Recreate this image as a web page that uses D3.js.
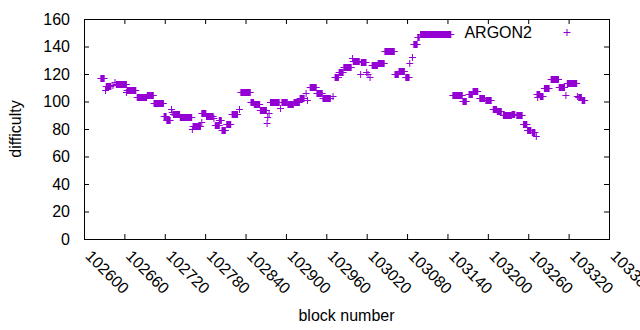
<!DOCTYPE html>
<html>
<head>
<meta charset="utf-8">
<script src="https://cdn.jsdelivr.net/npm/d3@7"></script>
<style>
  body { margin: 0; background: #fff; }
  svg text { font-family: "Liberation Sans", Arial, sans-serif; font-size: 16px; fill: #000; }
</style>
</head>
<body>
<div id="chart"></div>
<script>
// runs of consecutive ARGON2 blocks that share one difficulty (first block, last block, difficulty)
const runStart = [102625, 102632, 102633, 102643, 102646, 102648, 102663, 102664, 102679, 102694,
  102704, 102719, 102723, 102730, 102731, 102733, 102743, 102761, 102762, 102775,
  102775, 102782, 102793, 102795, 102801, 102805, 102812, 102820, 102831, 102833,
  102848, 102853, 102862, 102872, 102873, 102875, 102877, 102892, 102894, 102903,
  102912, 102921, 102930, 102932, 102936, 102946, 102955, 102970, 102973, 102979,
  102986, 102999, 103000, 103011, 103012, 103020, 103022, 103025, 103028, 103037,
  103047, 103062, 103068, 103078, 103084, 103088, 103090, 103096, 103100, 103148,
  103163, 103172, 103178, 103188, 103197, 103208, 103214, 103223, 103236, 103243,
  103253, 103259, 103266, 103272, 103273, 103274, 103278, 103284, 103294, 103306,
  103316, 103318, 103333, 103335, 103340];
const runEnd = [102630, 102632, 102640, 102643, 102646, 102663, 102663, 102677, 102693, 102703,
  102718, 102722, 102728, 102730, 102731, 102742, 102760, 102761, 102773, 102775,
  102781, 102792, 102793, 102801, 102804, 102810, 102818, 102828, 102831, 102847,
  102852, 102861, 102871, 102872, 102873, 102875, 102890, 102892, 102902, 102911,
  102920, 102927, 102930, 102932, 102945, 102954, 102966, 102970, 102978, 102985,
  102997, 102999, 103009, 103011, 103019, 103020, 103022, 103025, 103036, 103046,
  103061, 103067, 103076, 103083, 103084, 103088, 103095, 103098, 103145, 103162,
  103168, 103177, 103185, 103195, 103205, 103213, 103220, 103235, 103240, 103251,
  103258, 103264, 103270, 103272, 103277, 103274, 103282, 103291, 103305, 103314,
  103316, 103332, 103333, 103339, 103344];
const runDifficulty = [117, 108, 111.5, 112, 114, 112.5, 106.7, 108.4, 103.3, 104.4,
  98.8, 89.2, 86.5, 94.3, 92.6, 90.9, 88.4, 80, 82.1, 85.3,
  92, 89.8, 87.8, 83, 86.5, 79.3, 83.5, 90.9, 94.5, 106.6,
  99.6, 98.2, 93.5, 84.7, 89, 91.5, 99.4, 95, 99.9, 98,
  99.8, 102.3, 106.5, 101.3, 110.9, 106, 102.3, 104, 117.6, 121.7,
  124.9, 131.4, 129.2, 119.8, 128.5, 121.7, 120, 117.6, 126.5, 127.8,
  136.5, 119.8, 122.4, 118, 127.8, 132.6, 141.6, 146.7, 148.9, 104.5,
  100.1, 105.1, 107.4, 102.3, 101, 94.3, 92.9, 90, 90.7, 90,
  83.4, 79.3, 77.5, 75, 105.2, 103.5, 104.2, 110, 116.1, 110.8,
  104.7, 113.2, 104.2, 103.5, 101];

const xTicks = [102600, 102660, 102720, 102780, 102840, 102900, 102960,
  103020, 103080, 103140, 103200, 103260, 103320, 103380];
const yTicks = [0, 20, 40, 60, 80, 100, 120, 140, 160];
const seriesName = 'ARGON2';

const width = 640;
const height = 330;
const plotLeft = 84, plotRight = 609, plotTop = 19, plotBottom = 239;
const color = '#9400d3';
const arm = 3.5;

const svg = d3.select('#chart').append('svg')
  .attr('width', width)
  .attr('height', height);

const x = d3.scaleLinear().domain([102600, 103380]).range([plotLeft, plotRight]);
const y = d3.scaleLinear().domain([0, 160]).range([plotBottom, plotTop]);

const runs = runStart.map((s, i) => ({ from: s, to: runEnd[i], value: runDifficulty[i] }));

// axes, ticks pointing inwards like gnuplot, mirrored on top and right
svg.append('g')
  .attr('transform', `translate(0,${plotBottom})`)
  .call(d3.axisBottom(x).tickValues(xTicks).tickFormat(d3.format('d')).tickSizeInner(-5).tickSizeOuter(0))
  .call((g) => g.select('.domain').remove())
  .call((g) => g.selectAll('text')
    .attr('text-anchor', 'start')
    .attr('x', 0)
    .attr('y', 0)
    .attr('dy', 0)
    .attr('transform', 'translate(0,18) rotate(45)'));

svg.append('g')
  .attr('transform', `translate(0,${plotTop})`)
  .call(d3.axisTop(x).tickValues(xTicks).tickFormat('').tickSizeInner(-5).tickSizeOuter(0))
  .call((g) => g.select('.domain').remove());

svg.append('g')
  .attr('transform', `translate(${plotLeft},0)`)
  .call(d3.axisLeft(y).tickValues(yTicks).tickSizeInner(-5).tickSizeOuter(0).tickPadding(14))
  .call((g) => g.select('.domain').remove());

svg.append('g')
  .attr('transform', `translate(${plotRight},0)`)
  .call(d3.axisRight(y).tickValues(yTicks).tickFormat('').tickSizeInner(-5).tickSizeOuter(0))
  .call((g) => g.select('.domain').remove());

svg.selectAll('.tick line').attr('stroke', '#000');
svg.selectAll('.tick text').attr('fill', '#000').style('font-size', '16px');

svg.append('rect')
  .attr('x', plotLeft + 0.5)
  .attr('y', plotTop + 0.5)
  .attr('width', plotRight - plotLeft)
  .attr('height', plotBottom - plotTop)
  .attr('fill', 'none')
  .attr('stroke', '#000');

// points: a run of '+' marks merges into a filled bar with arms at both ends
const marks = svg.append('g').attr('class', 'points');

marks.selectAll('.arm')
  .data(runs)
  .enter()
  .append('line')
  .attr('class', 'arm')
  .attr('x1', (d) => x(d.from) - arm)
  .attr('x2', (d) => x(d.to) + arm)
  .attr('y1', (d) => Math.round(y(d.value)) + 0.5)
  .attr('y2', (d) => Math.round(y(d.value)) + 0.5)
  .attr('stroke', color);

marks.selectAll('.stem')
  .data(runs)
  .enter()
  .append('rect')
  .attr('class', 'stem')
  .attr('x', (d) => x(d.from) - 0.5)
  .attr('width', (d) => x(d.to) - x(d.from) + 1)
  .attr('y', (d) => Math.round(y(d.value)) + 0.5 - arm)
  .attr('height', arm * 2)
  .attr('fill', color);

// key
svg.append('text')
  .attr('x', 532)
  .attr('y', 38)
  .attr('text-anchor', 'end')
  .text(seriesName);

const kx = 567, ky = 32.5;
svg.append('path')
  .attr('d', `M${kx - arm},${ky}H${kx + arm}M${kx},${ky - arm}V${ky + arm}`)
  .attr('stroke', color)
  .attr('fill', 'none');

// axis titles
svg.append('text')
  .attr('transform', 'translate(21,129) rotate(-90)')
  .attr('text-anchor', 'middle')
  .text('difficulty');

svg.append('text')
  .attr('x', (plotLeft + plotRight) / 2)
  .attr('y', 321)
  .attr('text-anchor', 'middle')
  .text('block number');
</script>
</body>
</html>
